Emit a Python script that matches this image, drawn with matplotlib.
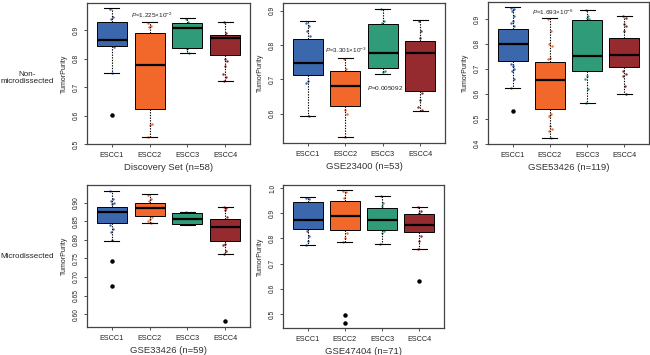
import matplotlib
matplotlib.use("Agg")
import matplotlib.pyplot as plt

plt.rcParams['font.family'] = ['Liberation Sans', 'DejaVu Sans']
plt.rcParams['mathtext.fontset'] = 'custom'
plt.rcParams['mathtext.rm'] = 'Liberation Sans'
plt.rcParams['mathtext.it'] = 'Liberation Sans:italic'

groups = ["ESCC1", "ESCC2", "ESCC3", "ESCC4"]
colors = ["#3b67ad", "#f2682b", "#2f9b78", "#952a2f"]

# five-number summaries: (whislo, q1, med, q3, whishi)
disc_stats = [(0.751, 0.845, 0.866, 0.928, 0.977), (0.523, 0.624, 0.776, 0.891, 0.929),
              (0.819, 0.837, 0.906, 0.924, 0.942), (0.722, 0.813, 0.871, 0.884, 0.930)]
disc_out = [[0.601], [], [], []]
disc_pts = [[0.975, 0.945, 0.938, 0.84, 0.75], [0.925, 0.915, 0.91, 0.57, 0.565, 0.523],
            [0.94, 0.93, 0.835, 0.82], [0.93, 0.89, 0.80, 0.79, 0.775, 0.745, 0.735, 0.722]]

g234_stats = [(0.593, 0.712, 0.748, 0.818, 0.869), (0.531, 0.624, 0.680, 0.723, 0.761),
              (0.717, 0.732, 0.776, 0.860, 0.906), (0.608, 0.665, 0.776, 0.812, 0.874)]
g234_out = [[], [], [], []]
g234_pts = [[0.865, 0.855, 0.84, 0.825, 0.695, 0.69, 0.593], [0.76, 0.73, 0.61, 0.60, 0.531],
            [0.905, 0.87, 0.865, 0.725, 0.72], [0.87, 0.84, 0.82, 0.66, 0.64, 0.62, 0.61]]

g534_stats = [(0.622, 0.730, 0.799, 0.858, 0.947), (0.423, 0.538, 0.656, 0.728, 0.903),
              (0.564, 0.690, 0.753, 0.896, 0.936), (0.601, 0.708, 0.757, 0.825, 0.913)]
g534_out = [[0.531], [], [], []]
g534_pts = [[0.945, 0.94, 0.93, 0.91, 0.89, 0.885, 0.87, 0.72, 0.71, 0.70, 0.69, 0.66, 0.622],
            [0.90, 0.85, 0.80, 0.79, 0.745, 0.74, 0.52, 0.51, 0.47, 0.46, 0.45, 0.423],
            [0.935, 0.91, 0.905, 0.90, 0.67, 0.66, 0.62, 0.564],
            [0.91, 0.905, 0.88, 0.87, 0.85, 0.69, 0.68, 0.67, 0.63, 0.601]]

g334_stats = [(0.797, 0.844, 0.874, 0.889, 0.931), (0.846, 0.864, 0.885, 0.900, 0.923),
              (0.841, 0.843, 0.857, 0.872, 0.875), (0.763, 0.797, 0.833, 0.856, 0.889)]
g334_out = [[0.742, 0.675], [], [], [0.581]]
g334_pts = [[0.93, 0.91, 0.905, 0.90, 0.895, 0.84, 0.83, 0.82, 0.80],
            [0.92, 0.91, 0.905, 0.86, 0.855, 0.85, 0.846],
            [0.875, 0.842], [0.889, 0.885, 0.88, 0.86, 0.79, 0.785, 0.77, 0.763]]

g474_stats = [(0.772, 0.839, 0.873, 0.946, 0.963), (0.787, 0.835, 0.888, 0.949, 0.993),
              (0.779, 0.835, 0.871, 0.921, 0.970), (0.757, 0.825, 0.854, 0.898, 0.925)]
g474_out = [[], [0.496, 0.465], [], [0.630]]
g474_pts = [[0.96, 0.955, 0.83, 0.81, 0.79, 0.772], [0.99, 0.985, 0.96, 0.82, 0.80, 0.787],
            [0.97, 0.94, 0.93, 0.83, 0.82, 0.779], [0.925, 0.91, 0.90, 0.81, 0.79, 0.757]]

panels = [
    dict(rect=[87, 3, 250, 144], stats=disc_stats, out=disc_out, pts=disc_pts,
         ylim=(0.502, 0.995), yticks=[0.5, 0.6, 0.7, 0.8, 0.9], fmt="%.1f",
         title="Discovery Set (n=58)",
         ann=[(2.07, 0.953, r"$P$=1.225$\times$10$^{-2}$")]),
    dict(rect=[283, 3, 445, 143], stats=g234_stats, out=g234_out, pts=g234_pts,
         ylim=(0.515, 0.922), yticks=[0.6, 0.7, 0.8, 0.9], fmt="%.1f",
         title="GSE23400 (n=53)",
         ann=[(2.02, 0.785, r"$P$=3.301$\times$10$^{-3}$"), (3.05, 0.675, r"$P$=0.005092")]),
    dict(rect=[488, 2, 649, 144], stats=g534_stats, out=g534_out, pts=g534_pts,
         ylim=(0.399, 0.968), yticks=[0.4, 0.5, 0.6, 0.7, 0.8, 0.9], fmt="%.1f",
         title="GSE53426 (n=119)",
         ann=[(2.07, 0.928, r"$P$=1.693$\times$10$^{-6}$")]),
    dict(rect=[87, 185, 250, 327], stats=g334_stats, out=g334_out, pts=g334_pts,
         ylim=(0.566, 0.947), yticks=[0.60, 0.65, 0.70, 0.75, 0.80, 0.85, 0.90], fmt="%.2f",
         title="GSE33426 (n=59)", ann=[]),
    dict(rect=[283, 185, 444, 328], stats=g474_stats, out=g474_out, pts=g474_pts,
         ylim=(0.444, 1.012), yticks=[0.5, 0.6, 0.7, 0.8, 0.9, 1.0], fmt="%.1f",
         title="GSE47404 (n=71)", ann=[]),
]

W, H = 650, 355
fig = plt.figure(figsize=(6.5, 3.55), dpi=100)
jit = [-0.04, 0.03, -0.015, 0.05, 0.0, -0.05, 0.035, -0.03, 0.015, 0.05, -0.01, 0.04, -0.045]

for p in panels:
    l, t, r, b = p["rect"]
    ax = fig.add_axes([l / W, 1 - b / H, (r - l) / W, (b - t) / H])
    stats = []
    for i, (lo, q1, med, q3, hi) in enumerate(p["stats"]):
        stats.append(dict(whislo=lo, q1=q1, med=med, q3=q3, whishi=hi,
                          fliers=p["out"][i], label=groups[i]))
    # jittered points (behind boxes)
    for i, vals in enumerate(p["pts"]):
        xs = [i + 1 + jit[k % len(jit)] for k in range(len(vals))]
        ax.scatter(xs, vals, s=3, color=colors[i], zorder=1, linewidths=0)
    bp = ax.bxp(stats, positions=[1, 2, 3, 4], widths=0.8, patch_artist=True,
                boxprops=dict(linewidth=0.7, edgecolor="black"),
                medianprops=dict(color="black", linewidth=1.6),
                whiskerprops=dict(color="black", linewidth=0.8, linestyle=(0, (1.2, 1.2))),
                capprops=dict(color="black", linewidth=0.8),
                capwidths=0.4,
                flierprops=dict(marker="o", markerfacecolor="black", markeredgecolor="black",
                                markersize=2.2),
                zorder=2)
    for patch, c in zip(bp["boxes"], colors):
        patch.set_facecolor(c)
    ax.set_xlim(0.34, 4.66)
    ax.set_ylim(*p["ylim"])
    ax.set_yticks(p["yticks"])
    ax.set_yticklabels([p["fmt"] % v for v in p["yticks"]], rotation=90, va="center",
                       fontsize=4.8, color="#222222")
    ax.set_xticks([1, 2, 3, 4])
    ax.set_xticklabels(groups, fontsize=5.2, color="#222222")
    ax.tick_params(axis="both", length=2.5, width=0.6, pad=2.5, color="#333333")
    ax.tick_params(axis="x", pad=3)
    for s in ax.spines.values():
        s.set_color("#444444")
        s.set_linewidth(0.9)
    ax.set_ylabel("TumorPurity", fontsize=5, labelpad=4, color="#222222")
    ax.set_xlabel(p["title"], fontsize=6.8, labelpad=3.2, color="#333333")
    for (x, y, s) in p["ann"]:
        ax.text(x, y, s, fontsize=4.6, ha="center", va="center", color="#222222", zorder=4)

fig.text(27 / W, 1 - 78 / H, "Non-\nmicrodissected", ha="center", va="center",
         fontsize=5.8, color="#222222", linespacing=1.1)
fig.text(27 / W, 1 - 257 / H, "Microdissected", ha="center", va="center",
         fontsize=5.8, color="#222222")

fig.savefig("out.png", dpi=100)
